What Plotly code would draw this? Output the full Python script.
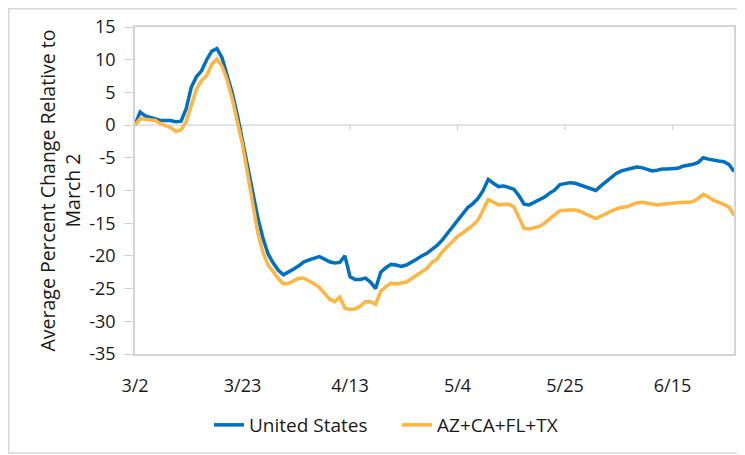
import pandas as pd
import plotly.graph_objects as go

start_date = "2020-03-02"
n_days = 118

us_values = [
    0.0, 2.0, 1.4, 1.2, 0.9, 0.7, 0.7, 0.7, 0.5, 0.6,
    2.5, 5.8, 7.4, 8.3, 10.0, 11.3, 11.7, 10.3, 7.6, 4.9,
    1.5, -2.7, -6.3, -10.3, -14.2, -17.3, -19.7, -21.1, -22.2, -22.9,
    -22.5, -22.0, -21.5, -20.9, -20.6, -20.4, -20.1, -20.5, -20.9, -21.1,
    -21.0, -20.0, -23.2, -23.6, -23.6, -23.4, -24.0, -25.0, -22.5, -21.8,
    -21.3, -21.4, -21.6, -21.4, -21.0, -20.5, -20.0, -19.6, -19.0, -18.4,
    -17.6, -16.6, -15.4, -14.4, -13.4, -12.6, -12.0, -11.2, -10.0, -8.3,
    -8.9, -9.4, -9.3, -9.5, -9.8, -10.8, -12.1, -12.2, -11.8, -11.4,
    -11.0, -10.4, -9.9, -9.1, -8.9, -8.8, -8.9, -9.2, -9.5, -9.7,
    -10.0, -9.3, -8.7, -8.0, -7.4, -7.0, -6.8, -6.5, -6.4, -6.5,
    -6.8, -7.0, -6.9, -6.7, -6.7, -6.7, -6.6, -6.3, -6.2, -6.0,
    -5.7, -5.0, -5.2, -5.4, -5.5, -5.6, -6.0, -7.1,
]

four_states_values = [
    0.0, 1.0, 0.9, 0.8, 0.7, 0.2, -0.1, -0.4, -1.0, -0.7,
    0.5, 3.0, 5.5, 6.8, 7.6, 9.3, 10.1, 9.0, 6.9, 4.0,
    0.3, -3.0, -7.5, -12.0, -16.5, -19.5, -21.4, -22.4, -23.5, -24.3,
    -24.2, -23.8, -23.4, -23.4, -23.8, -24.3, -24.8, -25.8, -26.6, -27.0,
    -26.3, -28.0, -28.2, -28.1, -27.7, -27.0, -27.0, -27.4, -25.4, -24.7,
    -24.2, -24.3, -24.2, -24.0, -23.5, -23.0, -22.5, -21.9, -21.0, -20.5,
    -19.4, -18.6, -17.8, -17.0, -16.5, -15.9, -15.3, -14.5, -13.0, -11.4,
    -11.8, -12.2, -12.1, -12.1, -12.5, -14.2, -15.8, -15.9, -15.7, -15.5,
    -15.0, -14.3, -13.7, -13.1, -13.0, -13.0, -13.0, -13.2, -13.6, -14.0,
    -14.3, -13.9, -13.5, -13.1, -12.8, -12.6, -12.5, -12.2, -11.9, -11.8,
    -11.9, -12.1, -12.2, -12.1, -12.0, -12.0, -11.9, -11.8, -11.8, -11.7,
    -11.2, -10.6, -11.0, -11.5, -11.8, -12.1, -12.5, -13.8,
]

tick_dates = ["2020-03-02", "2020-03-23", "2020-04-13", "2020-05-04", "2020-05-25", "2020-06-15"]
tick_labels = ["3/2", "3/23", "4/13", "5/4", "5/25", "6/15"]
y_ticks = list(range(-35, 20, 5))
y_tick_labels = [str(v) for v in y_ticks]

series_names = ["United States", "AZ+CA+FL+TX"]
series_colors = ["#0070C0", "#FFB53F"]

dates = pd.date_range(start_date, periods=n_days, freq="D")

FONT = "Open Sans"
TXT = "#1a1a1a"
GRID = "#d4d4d4"

# the page body adds an 8px offset; size the figure to fill the rest of the window
OFF = 8
W, H = 745 - OFF, 455 - OFF
L, R, T, B = 127, 11, 19, 101
pw, ph = W - L - R, H - T - B


def px_x(fx):
    return (fx - L) / pw


def px_y(fy):
    return (T + ph - fy) / ph


fig = go.Figure()
for name, vals, col in zip(series_names, [us_values, four_states_values], series_colors):
    fig.add_trace(go.Scatter(
        x=dates, y=vals, mode="lines", name=name,
        line=dict(color=col, width=3.5), hoverinfo="skip",
    ))

# zero axis line with small tick marks
shapes = [dict(type="line", xref="x", yref="y", x0=dates[0], x1=dates[-1], y0=0, y1=0,
               line=dict(color=GRID, width=1.3), layer="below")]
tick_len_units = 5 / ph * (y_ticks[-1] - y_ticks[0])
for td in tick_dates[1:]:
    shapes.append(dict(type="line", xref="x", yref="y", x0=td, x1=td, y0=0, y1=-tick_len_units,
                       line=dict(color=GRID, width=1.3), layer="below"))
# outer chart border
shapes.append(dict(type="rect", xref="paper", yref="paper",
                   x0=px_x(0.75), x1=px_x(W + 10),
                   y0=px_y(445), y1=px_y(0.75),
                   line=dict(color="#d9d9d9", width=1.5)))

fig.update_layout(
    width=W, height=H,
    margin=dict(l=L, r=R, t=T, b=B, autoexpand=False),
    paper_bgcolor="white", plot_bgcolor="white",
    font=dict(family=FONT, size=18, color=TXT),
    shapes=shapes,
    showlegend=True,
    legend=dict(orientation="h", x=px_x(201), xanchor="left",
                y=px_y(417), yanchor="middle",
                font=dict(family=FONT, size=19, color=TXT),
                entrywidth=143, entrywidthmode="pixels",
                bgcolor="rgba(0,0,0,0)"),
)

fig.update_xaxes(
    type="date", range=[dates[0], dates[-1]],
    tickvals=tick_dates, ticktext=tick_labels,
    ticks="", showgrid=False, zeroline=False,
    showline=True, linecolor=GRID, linewidth=1.5, mirror=True,
    tickfont=dict(family=FONT, size=18, color=TXT),
    ticklabelstandoff=15,
)

fig.update_yaxes(
    range=[y_ticks[0], y_ticks[-1]], tickvals=y_ticks, ticktext=y_tick_labels,
    ticks="outside", ticklen=9, tickcolor=GRID, tickwidth=1.3,
    showgrid=False, zeroline=False,
    showline=True, linecolor=GRID, linewidth=1.5, mirror=True,
    tickfont=dict(family=FONT, size=18, color=TXT),
    ticklabelstandoff=5,
    title=dict(text="Average Percent Change Relative to<br>March 2",
               font=dict(family=FONT, size=19.5, color=TXT), standoff=3),
)

fig.write_html("out.html")
